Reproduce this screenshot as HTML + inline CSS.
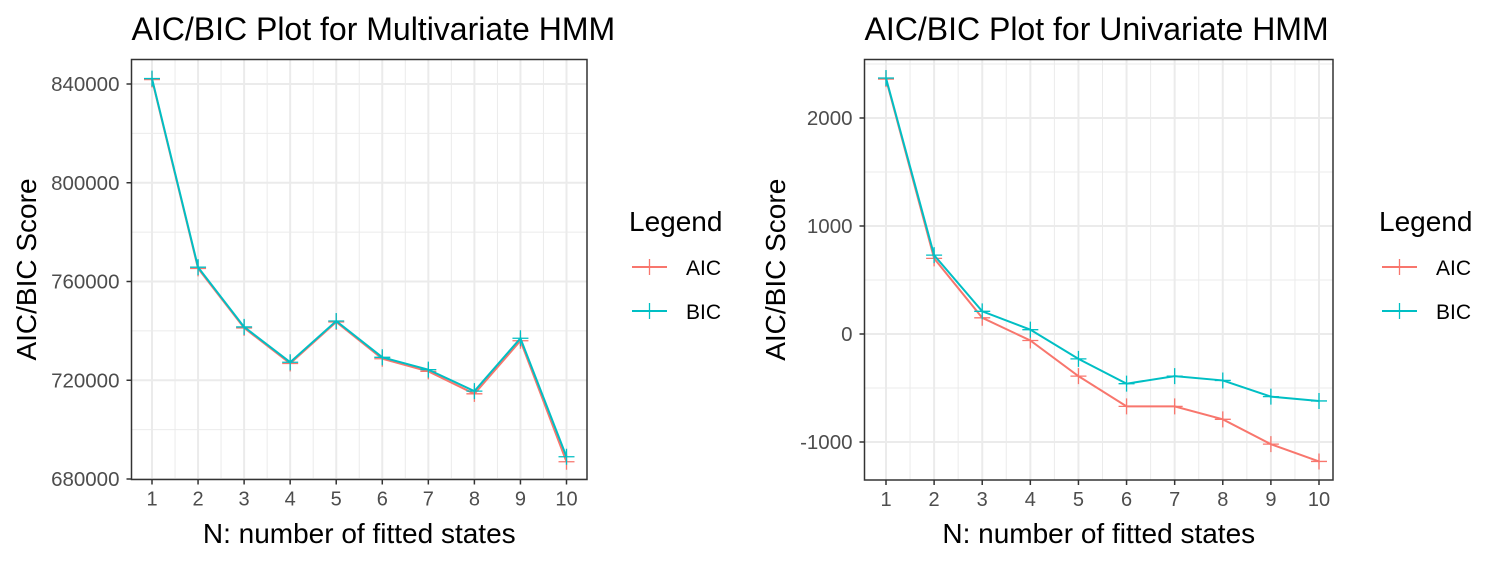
<!DOCTYPE html>
<html><head><meta charset="utf-8"><style>
body{margin:0;background:#fff;}
svg text{font-family:"Liberation Sans",Arial,sans-serif;}
</style></head><body>
<svg id="s" width="1500" height="562" xmlns="http://www.w3.org/2000/svg">
<rect width="1500" height="562" fill="#fff"/>
</svg>
<script>
const s=document.getElementById('s');
const NS='http://www.w3.org/2000/svg';
function el(t,a,txt){const e=document.createElementNS(NS,t);for(const k in a)e.setAttribute(k,a[k]);if(txt!==undefined)e.textContent=txt;s.appendChild(e);return e;}
function panel(o){
  const {L,R,T,B,x1,xs,yv,yTicks,yLab,aic,bic,title,legX}=o;
  const X=i=>x1+(i-1)*xs;
  for(let i=0;i<yTicks.length-1;i++){const y=(yv(yTicks[i])+yv(yTicks[i+1]))/2;el('line',{x1:L,x2:R,y1:y,y2:y,stroke:'#ebebeb','stroke-width':1});}
  if(o.extraMinor)o.extraMinor.forEach(v=>{const y=yv(v);if(y>T&&y<B)el('line',{x1:L,x2:R,y1:y,y2:y,stroke:'#ebebeb','stroke-width':1});});
  for(let i=1;i<10;i++){const x=X(i+0.5);el('line',{x1:x,x2:x,y1:T,y2:B,stroke:'#ebebeb','stroke-width':1});}
  yTicks.forEach(v=>{const y=yv(v);el('line',{x1:L,x2:R,y1:y,y2:y,stroke:'#ebebeb','stroke-width':2});});
  for(let i=1;i<=10;i++){const x=X(i);el('line',{x1:x,x2:x,y1:T,y2:B,stroke:'#ebebeb','stroke-width':2});}
  [[aic,'#F8766D'],[bic,'#00BFC4']].forEach(([d,c])=>{
    el('polyline',{points:d.map((v,i)=>X(i+1)+','+yv(v)).join(' '),fill:'none',stroke:c,'stroke-width':2});
    d.forEach((v,i)=>{const x=X(i+1),y=yv(v);el('path',{d:`M${x-8},${y}H${x+8}M${x},${y-8}V${y+8}`,stroke:c,'stroke-width':1.3});});
  });
  el('rect',{x:L,y:T,width:R-L,height:B-T,fill:'none',stroke:'#333','stroke-width':1.5});
  yTicks.forEach((v,i)=>{const y=yv(v);el('line',{x1:L-5,x2:L,y1:y,y2:y,stroke:'#333','stroke-width':1.5});
    el('text',{x:L-12,y:y+7,'text-anchor':'end','font-size':20.5,fill:'#4d4d4d'},yLab[i]);});
  for(let i=1;i<=10;i++){const x=X(i);el('line',{x1:x,x2:x,y1:B,y2:B+5,stroke:'#333','stroke-width':1.5});
    el('text',{x:x,y:B+26,'text-anchor':'middle','font-size':20,fill:'#4d4d4d'},String(i));}
  el('text',{x:(L+R)/2,y:543,'text-anchor':'middle','font-size':28,fill:'#000'},'N: number of fitted states');
  const cy=(T+B)/2;
  el('text',{x:0,y:0,'text-anchor':'middle','font-size':28,fill:'#000',transform:`translate(${o.ytX},${cy}) rotate(-90)`},'AIC/BIC Score');
  el('text',{x:L,y:40,'font-size':32,fill:'#000'},title);
  el('text',{x:legX,y:231,'font-size':28,fill:'#000'},'Legend');
  [['AIC','#F8766D',267],['BIC','#00BFC4',311]].forEach(([t,c,y])=>{
    el('line',{x1:legX+3,x2:legX+38,y1:y,y2:y,stroke:c,'stroke-width':2});
    el('line',{x1:legX+20.5,x2:legX+20.5,y1:y-8,y2:y+8,stroke:c,'stroke-width':1.3});
    el('text',{x:legX+57,y:y+8,'font-size':21,fill:'#000'},t);
  });
}
panel({L:131.5,R:587,T:59.5,B:479.5,x1:152,xs:(566.5-152)/9,
  yv:v=>84+(840000-v)/40000*98.75,yTicks:[840000,800000,760000,720000,680000],
  yLab:['840000','800000','760000','720000','680000'],extraMinor:[860000],
  aic:[841800,765300,741200,726800,743600,728700,723600,714500,736000,687000],
  bic:[842200,765800,741600,727300,744000,729300,724300,715600,737000,689000],
  title:'AIC/BIC Plot for Multivariate HMM',legX:629,ytX:36});
panel({L:864.5,R:1333,T:59.5,B:480,x1:886,xs:(1319-886)/9,
  yv:v=>334-v*0.108,yTicks:[2000,1000,0,-1000],yLab:['2000','1000','0','-1000'],extraMinor:[2500,-1500],
  aic:[2360,700,150,-60,-390,-670,-670,-790,-1020,-1180],
  bic:[2370,730,210,40,-230,-460,-390,-430,-580,-620],
  title:'AIC/BIC Plot for Univariate HMM',legX:1379,ytX:785});
</script>
</body></html>
